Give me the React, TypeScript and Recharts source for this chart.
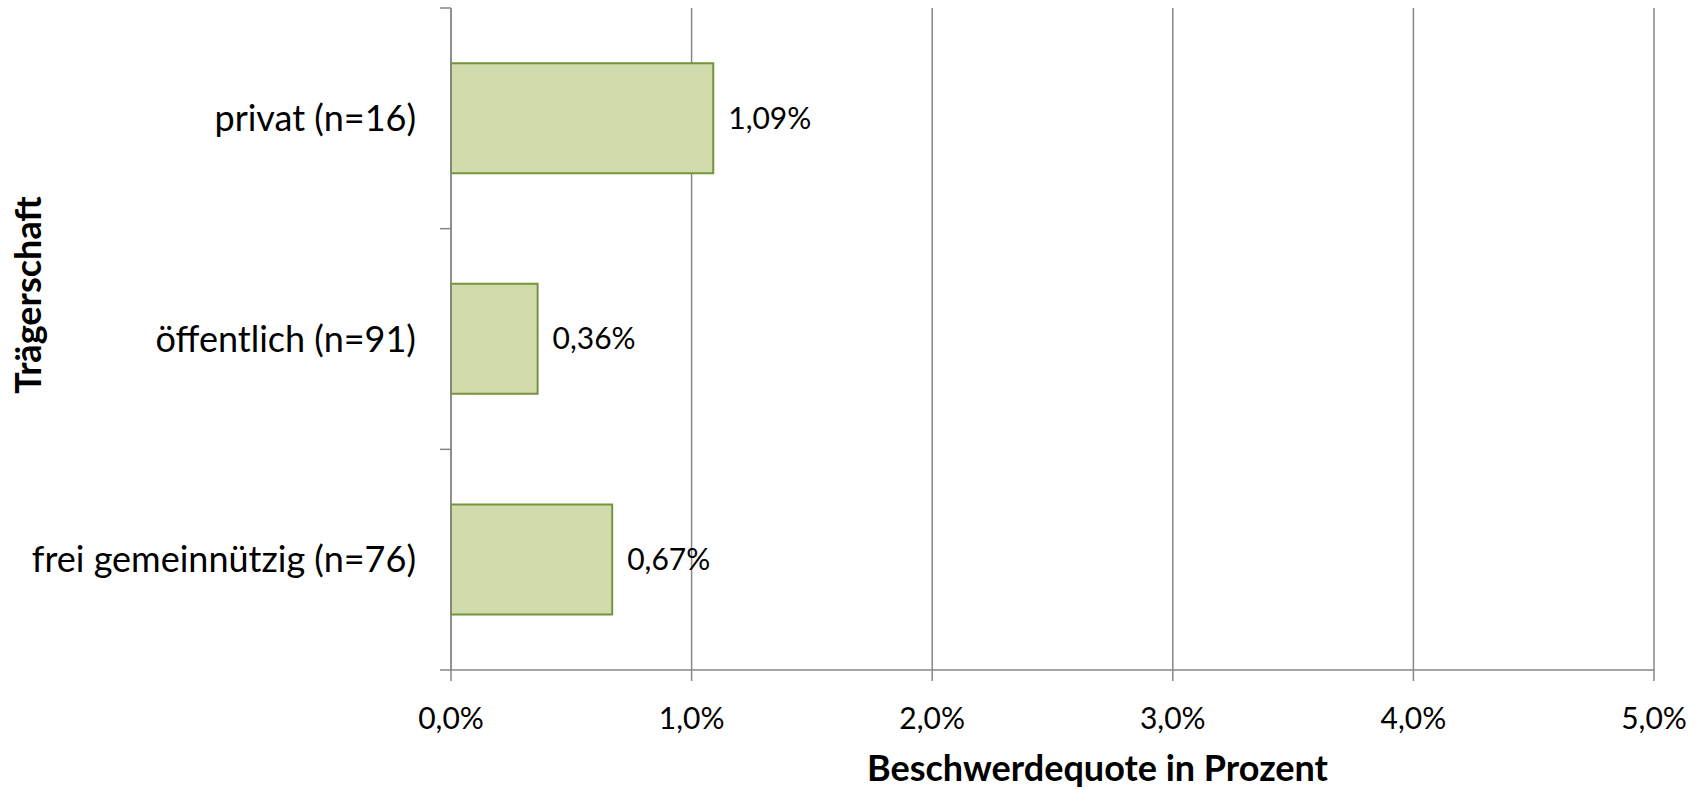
import React from 'react';
import { BarChart, Bar, XAxis, YAxis, CartesianGrid, LabelList, Label } from 'recharts';

const categories = ['privat (n=16)', 'öffentlich (n=91)', 'frei gemeinnützig (n=76)'];
const quoten = [1.09, 0.36, 0.67];
const xTicks = [0, 1, 2, 3, 4, 5];

const data = categories.map((name, i) => ({ name, quote: quoten[i] }));

const FONT = 'Lato, "Open Sans", sans-serif';
const GRID = '#878787';
const TICK_SIZE = 11;
const TICK_MARGIN = 24;

const fmtTick = (v: number) => `${v.toFixed(1).replace('.', ',')}%`;
const fmtLabel = (v: any) => `${Number(v).toFixed(2).replace('.', ',')}%`;

// Kategorie-Tick: Text an der Bandmitte, Striche an den Bandgrenzen (wie Excel)
const CategoryTick = (props: any) => {
  const { x, y, payload, index, visibleTicksCount, height } = props;
  const half = payload && payload.offset ? payload.offset : height / (2 * visibleTicksCount);
  const axisX = x + TICK_SIZE + TICK_MARGIN;
  const last = index === visibleTicksCount - 1;
  return (
    <g>
      <line x1={axisX - TICK_SIZE} x2={axisX} y1={y - half} y2={y - half} stroke={GRID} strokeWidth={1.5} />
      {last && <line x1={axisX - TICK_SIZE} x2={axisX} y1={y + half} y2={y + half} stroke={GRID} strokeWidth={1.5} />}
      <text x={x} y={y} dy="0.35em" textAnchor="end" fontFamily={FONT} fontSize={36} fill="#000">
        {payload.value}
      </text>
    </g>
  );
};

const App: React.FC = () => {
  return (
    <div style={{ position: 'absolute', left: 0, top: 0, width: 1705, height: 790, background: '#fff' }}>
      <BarChart
        width={1705}
        height={790}
        data={data}
        layout="vertical"
        barCategoryGap="25%"
        margin={{ top: 8, right: 51, bottom: 0, left: 0 }}
      >
        <CartesianGrid horizontal={false} stroke={GRID} strokeWidth={1.5} />
        <XAxis
          type="number"
          domain={[0, 5]}
          ticks={xTicks}
          tickFormatter={fmtTick}
          height={120}
          stroke={GRID}
          strokeWidth={1.5}
          tickSize={TICK_SIZE}
          tickMargin={27}
          tick={{ fill: '#000', fontSize: 30, fontFamily: FONT }}
        >
          <Label
            value="Beschwerdequote in Prozent"
            position="insideBottom"
            offset={9}
            dx={45}
            style={{ fontFamily: FONT, fontSize: 36, fontWeight: 700, fill: '#000' }}
          />
        </XAxis>
        <YAxis
          type="category"
          dataKey="name"
          width={451}
          stroke={GRID}
          strokeWidth={1.5}
          tickLine={false}
          tickSize={TICK_SIZE}
          tickMargin={TICK_MARGIN}
          tick={<CategoryTick />}
        >
          <Label
            value="Trägerschaft"
            angle={-90}
            position="insideLeft"
            offset={28}
            dy={-44}
            style={{ textAnchor: 'middle', fontFamily: FONT, fontSize: 36, fontWeight: 700, fill: '#000' }}
          />
        </YAxis>
        <Bar dataKey="quote" fill="#d0dcab" stroke="#77933c" strokeWidth={2} isAnimationActive={false}>
          <LabelList
            dataKey="quote"
            position="right"
            offset={15}
            formatter={fmtLabel}
            style={{ fontFamily: FONT, fontSize: 30, fill: '#000' }}
          />
        </Bar>
      </BarChart>
    </div>
  );
};

export default App;
